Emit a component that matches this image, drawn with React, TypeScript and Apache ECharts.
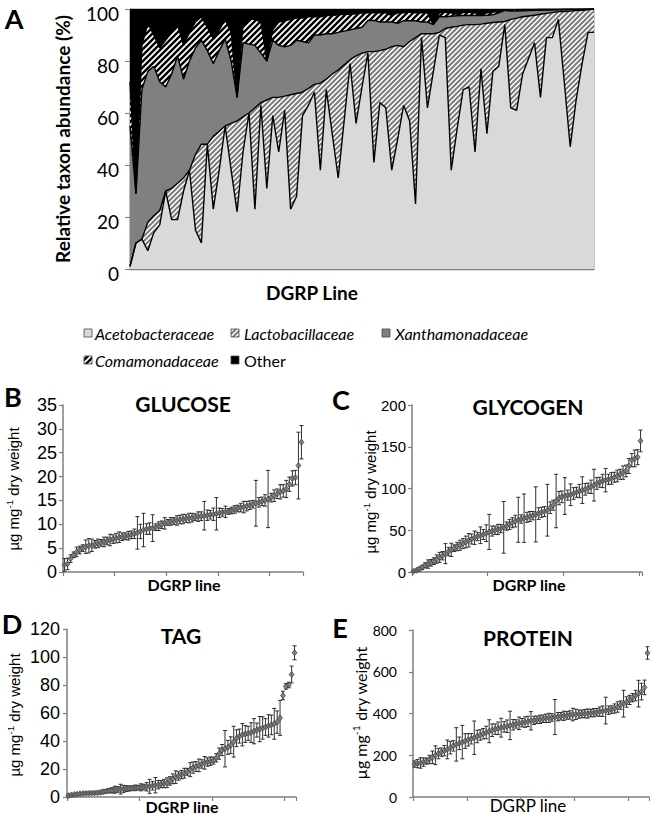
import React, { useEffect, useRef } from 'react';
import * as echarts from 'echarts';

// ---------- Panel A: cumulative boundaries (%) ----------
const acetoTop = [1,10,11.5,7,14,17,30,19,19,30,38,15,10,48,23,38,55,38,22,45,60,23,63,31,59,45,61,23,28,59,63,68,38,69,52,35,57,79,56,70,83,41,64,62,38,50,63,57,25,89,62,76,90,89,38,54,69,70,45,77,52,76,78,94,62,61,75,81,87,66,89,89,96,72,47,65,79,91,91];
const lactoTop = [1,10,11.5,18,20.5,22.5,30,31,33,35,38,44,48,48,51,53,55,56,57,58.5,60,62,64,65,66,66,66.5,67,67.5,68,69.5,71,71.5,73,75,76.5,78.5,80.5,82,83,83.6,83.6,84,84.5,85.5,86,85.5,87.5,89,90.5,90.5,90.5,91,92.5,93,93.3,93.8,94,94,94.2,94.5,94.8,95,95.2,96,96.5,97,97.3,97.6,98,98.3,98.6,99,99,99.2,99.4,99.5,99.7,100];
const xanthoTop = [55,29,69,76,78,72,70,75,82,73,80,85,88,84,79,84,88.5,80,66,87,86.5,86,83,80,88,86,85.5,86,88,87.5,87,90,90,90.5,90.5,91,91.5,92,92.5,93,95.6,95.6,95,95,95,94.5,95.5,95.5,95.5,95,95,94,97,97,97.2,97.4,97.5,97.5,97.5,97.5,97.6,97.8,98.5,99.5,99.2,99.2,99.3,99.4,99.5,99.5,99.6,99.6,99.7,99.7,99.8,99.8,99.9,100,100];
const comamTop = [72,29,86,94.5,90,85,88,91,94,86,91,95,97,93,88.5,92,96,91,66,94,96,96,95,80,92,95,95.5,96,96.5,96.5,97,97,97,97.5,97.5,97.8,98,98,98.2,98.4,98.5,98.5,98.5,98.5,97.5,98.5,98.5,98.8,98.5,98.5,98.5,94,98.5,98.8,98.5,98,98.6,98.8,98.5,97.8,98.5,98.8,99,99.7,99.6,99.7,99.8,99.8,99.8,99.9,99.9,99.9,99.9,100,100,100,100,100,100];
const familyNames = ['Acetobacteraceae', 'Lactobacillaceae', 'Xanthamonadaceae', 'Comamonadaceae', 'Other'];

// ---------- Panels B-E: means and error half-widths ----------
const glucoseMean = [1.5,1.7,2.8,3.6,4.2,4.6,5.0,5.3,5.5,5.6,5.8,6.0,6.1,6.3,6.5,6.7,6.9,7.1,7.3,7.4,7.5,7.6,7.8,8.0,8.2,8.5,8.8,9.0,9.1,9.2,9.4,9.6,9.9,10.2,10.4,10.6,10.7,10.8,11.0,11.1,11.2,11.3,11.4,11.5,11.6,11.7,11.8,11.9,12.0,12.1,12.2,12.4,12.5,12.6,12.7,12.9,13.1,13.3,13.5,13.6,13.8,14.0,14.2,14.4,14.6,14.8,15.0,15.3,15.6,16.0,16.4,16.8,17.0,17.4,18.4,19.6,19.8,22.3,27.2];
const glucoseErr = [1.3,1.2,0.8,0.6,1.0,0.8,0.7,1.4,1.5,1.3,0.8,0.9,0.7,1.0,0.8,1.2,0.9,1.0,1.1,0.8,0.7,0.9,0.8,1.0,3.4,1.5,3.5,1.1,1.2,2.8,0.7,0.9,0.8,1.2,0.6,0.8,0.7,1.0,0.9,1.0,0.8,1.0,0.9,0.7,1.0,0.9,3.0,1.1,0.9,1.3,3.4,1.0,0.8,1.2,0.6,0.7,0.8,0.7,0.9,1.2,1.0,0.9,0.8,4.8,1.0,0.9,1.2,6.0,0.9,1.2,1.0,1.5,1.3,1.8,1.5,1.6,1.5,7.0,3.5];
const glycogenMean = [0.8,2.0,3.5,5.5,8.0,9.5,11.0,13.0,15.5,17.5,19.5,22.0,24.5,26.5,28.5,30.5,32.0,34.0,36.0,38.0,39.5,41.0,42.5,44.0,45.0,46.5,48.0,49.0,50.0,51.0,52.0,53.5,55.0,57.0,59.0,61.0,62.5,63.5,64.5,65.5,66.5,67.5,69.0,70.0,71.5,72.5,74.0,77.0,80.0,85.0,88.5,90.0,91.0,92.0,92.5,94.0,95.5,97.0,98.0,99.0,100.5,102.0,104.0,106.0,107.5,109.0,110.0,111.0,112.0,113.5,115.0,117.0,119.0,121.0,127.0,134.0,136.0,137.5,157.0];
const glycogenErr = [1,1.5,2,2.5,3,5,4,4,5,6,5,12,5,8,4,5,6,6,7,8,6,8,5,10,6,10,21,6,5,6,5,31,5,6,6,7,27,5,29,6,6,5,33,7,6,6,31,7,6,32,8,7,22,6,13,7,6,8,16,7,6,8,19,7,6,8,14,6,7,6,7,6,8,7,9,8,10,9,13];
const tagMean = [1.0,1.5,1.8,2.0,2.3,2.5,2.6,2.7,2.8,2.9,3.0,3.3,3.8,4.1,4.5,4.8,5.2,5.4,5.6,5.8,6.0,6.1,6.3,6.5,6.7,6.9,7.1,7.3,7.6,8.0,8.4,8.8,9.2,9.6,10.2,11.5,13.0,14.2,15.0,16.0,17.0,18.0,19.5,21.0,21.8,22.6,23.6,24.4,25.0,25.6,26.0,28.0,31.0,33.5,34.5,35.5,37.0,39.5,42.0,43.5,44.5,45.0,45.5,46.0,47.0,47.8,48.5,49.3,50.0,50.8,51.5,52.3,53.5,56.5,72.5,79.0,80.0,87.5,103.0];
const tagErr = [0.8,0.8,0.8,0.8,0.8,0.8,0.8,0.8,0.8,0.8,0.8,1.0,1.2,1.0,1.5,1.8,2.5,2.0,3.5,2.5,2.0,1.8,1.5,2.0,1.5,2.5,2.0,3.0,5.0,3.0,5.5,3.0,2.5,3.0,3.5,3.0,3.5,4.5,3.0,3.0,3.5,2.5,5.0,4.0,3.5,4.5,3.0,4.5,3.0,3.0,2.5,3.0,4.0,4.0,13.0,5.0,6.0,11.0,6.0,5.0,8.0,6.0,5.0,7.0,9.0,5.0,9.0,8.0,6.0,8.0,7.0,11.0,8.0,12.5,3.0,2.0,2.0,6.0,5.0];
const proteinMean = [158,160,163,167,172,180,190,200,208,215,222,228,236,245,252,257,263,268,274,279,284,290,297,303,309,315,320,325,329,332,336,339,343,346,350,353,356,359,362,365,367,370,372,375,377,379,381,383,385,387,389,391,393,395,396,397,398,399,400,402,404,406,409,411,414,416,419,424,431,440,447,455,465,476,486,495,505,525,690];
const proteinErr = [15,20,25,20,15,20,30,45,25,20,25,45,30,25,80,30,80,35,30,25,80,30,25,25,30,55,30,25,30,45,25,30,68,25,20,30,20,25,25,44,20,18,20,18,20,22,18,84,20,18,22,18,20,30,25,20,18,20,22,18,20,18,22,25,64,20,18,22,25,20,64,25,22,20,25,64,40,35,30];

const N = acetoTop.length;
const dgrpLines = Array.from({ length: N }, (_, i) => 'DGRP ' + (i + 1));

const FC = 'Lato, "Open Sans", sans-serif';
const FA = '"Liberation Sans", Arial, sans-serif';
const AXC = '#7f7f7f';

function stripes(bg: string, fg: string, size: number, lw: number) {
  const c = document.createElement('canvas');
  c.width = size; c.height = size;
  const ctx = c.getContext('2d')!;
  ctx.fillStyle = bg; ctx.fillRect(0, 0, size, size);
  ctx.strokeStyle = fg; ctx.lineWidth = lw;
  ctx.beginPath();
  ctx.moveTo(-1, size + 1); ctx.lineTo(size + 1, -1);
  ctx.moveTo(-size / 2 - 1, size / 2 + 1); ctx.lineTo(size / 2 + 1, -size / 2 - 1);
  ctx.moveTo(size / 2 - 1, size * 1.5 + 1); ctx.lineTo(size * 1.5 + 1, size / 2 - 1);
  ctx.stroke();
  return { image: c, repeat: 'repeat' } as any;
}

function App() {
  const ref = useRef<HTMLDivElement>(null);
  useEffect(() => {
    if (!ref.current) return;
    const chart = echarts.init(ref.current, undefined, { renderer: 'svg' });
    const lactoPat = stripes('#ffffff', '#7c7c7c', 5, 2);
    const comamPat = stripes('#ffffff', '#000000', 6, 2.4);

    const tops = [acetoTop, lactoTop, xanthoTop, comamTop, acetoTop.map(() => 100)];
    const bands = tops.map((t, k) => t.map((v, i) => {
      const below = k === 0 ? 0 : tops[k - 1][i];
      return +Math.max(0, v - below).toFixed(2);
    }));
    const fills = ['#d9d9d9', lactoPat, '#808080', comamPat, '#000000'];

    const seriesA: any[] = [];
    bands.forEach((b, k) => {
      seriesA.push({
        type: 'line', name: familyNames[k], xAxisIndex: 0, yAxisIndex: 0, stack: 'fill',
        data: b, symbol: 'none', lineStyle: { width: 0 }, areaStyle: { color: fills[k], opacity: 1 },
        z: 2, silent: true,
      });
    });
    bands.slice(0, 4).forEach((b, k) => {
      seriesA.push({
        type: 'line', name: familyNames[k] + ' edge', xAxisIndex: 0, yAxisIndex: 0, stack: 'edge',
        data: b, symbol: 'none', lineStyle: { width: 1.4, color: '#000' }, z: 3, silent: true,
      });
    });

    const panels = [
      { mean: glucoseMean, err: glucoseErr, grid: { left: 63, top: 405, width: 240, height: 167 }, max: 35, interval: 5, tickInt: 16, lf: FA, ls: 18, lm: 6 },
      { mean: glycogenMean, err: glycogenErr, grid: { left: 412, top: 405, width: 230, height: 167 }, max: 200, interval: 50, tickInt: 25, lf: FA, ls: 15, lm: 6 },
      { mean: tagMean, err: tagErr, grid: { left: 67, top: 629, width: 229, height: 168 }, max: 120, interval: 20, tickInt: 24, lf: FA, ls: 18, lm: 7 },
      { mean: proteinMean, err: proteinErr, grid: { left: 413, top: 630, width: 236, height: 167 }, max: 800, interval: 200, tickInt: 17, lf: FC, ls: 14, lm: 16 },
    ];

    const grids: any[] = [{ left: 130, top: 9, width: 464, height: 260, show: true, borderColor: '#8c8c8c', borderWidth: 1, backgroundColor: 'transparent' }];
    const xAxes: any[] = [{
      gridIndex: 0, type: 'category', data: dgrpLines, boundaryGap: false,
      axisLine: { lineStyle: { color: AXC, width: 1.3 } }, axisTick: { show: false }, axisLabel: { show: false },
    }];
    const yAxes: any[] = [{
      gridIndex: 0, type: 'value', min: 0, max: 100, interval: 20,
      axisLine: { show: true, lineStyle: { color: AXC, width: 1.3 } },
      axisTick: { show: true, length: 5, lineStyle: { color: AXC } },
      axisLabel: { fontSize: 19, fontFamily: FC, color: '#000', margin: 11, verticalAlign: 'top', lineHeight: 8 },
      splitLine: { show: false },
    }];
    const series: any[] = [...seriesA];

    panels.forEach((p, j) => {
      const gi = j + 1;
      grids.push(p.grid);
      xAxes.push({
        gridIndex: gi, type: 'category', data: dgrpLines, boundaryGap: true,
        axisLine: { lineStyle: { color: AXC, width: 1.5 } },
        axisTick: { show: true, interval: p.tickInt, length: 4, lineStyle: { color: AXC, width: 1.2 } },
        axisLabel: { show: false }, splitLine: { show: false },
      });
      yAxes.push({
        gridIndex: gi, type: 'value', min: 0, max: p.max, interval: p.interval,
        axisLine: { show: true, lineStyle: { color: AXC, width: 1.5 } },
        axisTick: { show: true, length: 4, lineStyle: { color: AXC, width: 1.2 } },
        axisLabel: { fontSize: p.ls, fontFamily: p.lf, color: '#000', margin: p.lm },
        splitLine: { show: false },
      });
      series.push({
        type: 'custom', xAxisIndex: gi, yAxisIndex: gi, z: 2, silent: true,
        data: p.mean.map((m, i) => [i, Math.max(0, m - p.err[i]), m + p.err[i]]),
        encode: { x: 0, y: [1, 2] },
        renderItem: (params: any, api: any) => {
          const x = api.value(0);
          const lo = api.coord([x, api.value(1)]);
          const hi = api.coord([x, api.value(2)]);
          const hw = 2;
          const st = { stroke: '#1a1a1a', lineWidth: 0.9 };
          return {
            type: 'group', children: [
              { type: 'line', shape: { x1: lo[0], y1: lo[1], x2: hi[0], y2: hi[1] }, style: st },
              { type: 'line', shape: { x1: lo[0] - hw, y1: lo[1], x2: lo[0] + hw, y2: lo[1] }, style: st },
              { type: 'line', shape: { x1: hi[0] - hw, y1: hi[1], x2: hi[0] + hw, y2: hi[1] }, style: st },
            ],
          };
        },
      });
      series.push({
        type: 'scatter', xAxisIndex: gi, yAxisIndex: gi, z: 3, silent: true,
        data: p.mean, symbol: 'diamond', symbolSize: [5, 6],
        itemStyle: { color: '#767676', borderColor: '#3a3a3a', borderWidth: 0.9 },
      });
    });

    const t = (x: number, y: number, text: string, size: number, opt: any = {}) => ({
      type: 'text', x, y, rotation: opt.rot || 0, silent: true,
      style: {
        text, fill: '#000', align: opt.align || 'center', verticalAlign: 'middle',
        fontSize: size, fontFamily: opt.family || FC, fontWeight: opt.weight || 'normal', fontStyle: opt.style || 'normal',
      },
    });
    const yl = (x: number, y: number, family: string, size: number) => ({
      type: 'text', x, y, rotation: Math.PI / 2, silent: true,
      style: {
        text: '{a|µg mg}{s|-1}{a| dry weight}', align: 'center', verticalAlign: 'middle', fill: '#000',
        rich: {
          a: { fontSize: size, fontFamily: family, fill: '#000' },
          s: { fontSize: size * 0.65, fontFamily: family, fill: '#000', verticalAlign: 'top', lineHeight: size * 1.1 },
        },
      },
    });
    const sw = (x: number, y: number, fill: any) => ({
      type: 'rect', shape: { x, y, width: 8, height: 8 }, silent: true,
      style: { fill, stroke: '#444', lineWidth: 0.8 },
    });

    const graphic: any[] = [
      t(14, 18, 'A', 27, { weight: 'bold' }),
      t(62, 139, 'Relative taxon abundance (%)', 19, { weight: 'bold', rot: Math.PI / 2 }),
      t(312, 292, 'DGRP Line', 19, { weight: 'bold' }),
      // legend
      sw(84, 329, '#d9d9d9'), t(95, 333, familyNames[0], 16, { align: 'left', style: 'italic' }),
      sw(231, 329, lactoPat), t(244, 333, familyNames[1], 16, { align: 'left', style: 'italic' }),
      sw(382, 329, '#808080'), t(395, 333, familyNames[2], 16, { align: 'left', style: 'italic' }),
      sw(84, 356, comamPat), t(95, 360, familyNames[3], 16, { align: 'left', style: 'italic' }),
      sw(231, 356, '#000'), t(244, 360, familyNames[4], 16, { align: 'left' }),
      // panel letters
      t(13, 396, 'B', 27, { weight: 'bold' }),
      t(341, 399, 'C', 27, { weight: 'bold' }),
      t(12, 623, 'D', 27, { weight: 'bold' }),
      t(340, 627, 'E', 27, { weight: 'bold' }),
      // titles
      t(183, 403, 'GLUCOSE', 21, { weight: 'bold' }),
      t(528, 406, 'GLYCOGEN', 21, { weight: 'bold' }),
      t(181, 635, 'TAG', 21, { weight: 'bold' }),
      t(528, 637, 'PROTEIN', 21, { weight: 'bold' }),
      // x names
      t(184, 584, 'DGRP line', 16, { weight: 'bold' }),
      t(529, 584, 'DGRP line', 16, { weight: 'bold' }),
      t(182, 806, 'DGRP line', 16, { weight: 'bold' }),
      t(528, 805, 'DGRP line', 17),
      // y names
      yl(13, 489, FA, 15),
      yl(370, 492, FA, 15),
      yl(14, 715, FA, 15),
      yl(360, 713, FC, 16),
    ];

    chart.setOption({
      animation: false,
      backgroundColor: '#ffffff',
      grid: grids, xAxis: xAxes, yAxis: yAxes, series, graphic,
    });
    return () => chart.dispose();
  }, []);
  return <div ref={ref} style={{ position: 'absolute', left: 0, top: 0, width: 650, height: 816 }} />;
}

export default App;
